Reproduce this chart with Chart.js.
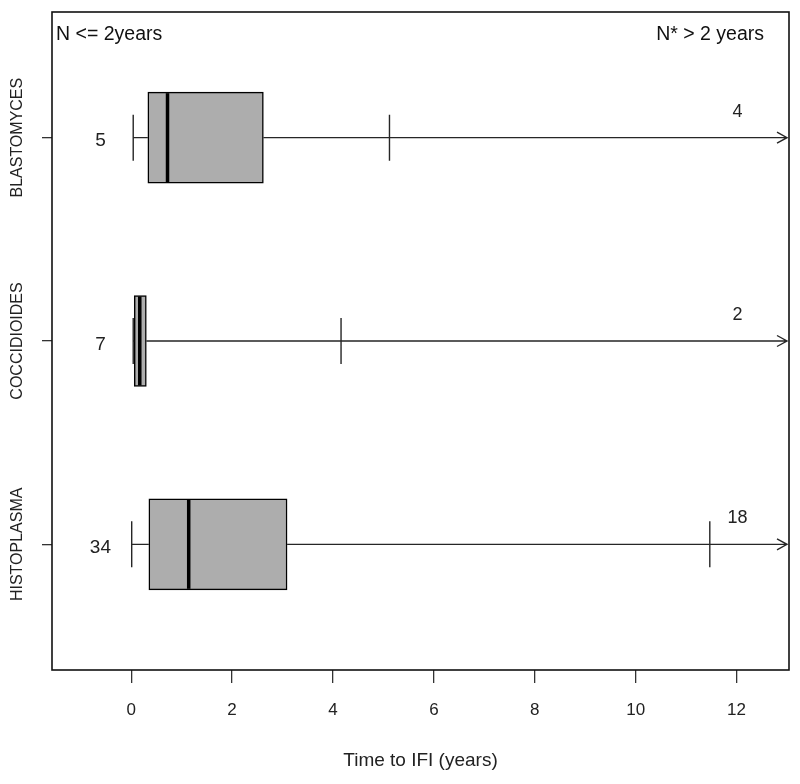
<!DOCTYPE html>
<html><head><meta charset="utf-8">
<script src="https://cdn.jsdelivr.net/npm/chart.js@4"></script>
<style>html,body{margin:0;padding:0;background:#fff}#wrap{width:800px;height:784px;position:relative}</style>
</head><body><div id="wrap"><canvas id="c"></canvas></div>
<script>
const categories = ['BLASTOMYCES', 'COCCIDIOIDES', 'HISTOPLASMA'];
const positions = [3, 2, 1];
const whiskerLow = [0.04, 0.04, 0.01];
const q1 = [0.33, 0.06, 0.35];
const median = [0.72, 0.17, 1.14];
const q3 = [2.62, 0.30, 3.09];
const upperMark = [5.12, 4.16, 11.47];
const countLow = ['5', '7', '34'];
const countHigh = ['4', '2', '18'];
const xTickValues = [0, 2, 4, 6, 8, 10, 12];
const xRange = [-1.57, 13.04];
const yRange = [0.382, 3.618];
const cornerLabels = ['N <= 2years', 'N* > 2 years'];
const xTitle = 'Time to IFI (years)';
const countLowX = -0.61;
const countHighX = 12.02;
const capHalf = 0.113;

const FONT = "'Liberation Sans', Arial, Helvetica, sans-serif";

const boxData = positions.map((p, i) => ({ x: [q1[i], q3[i]], y: p }));

const boxPlugin = {
  id: 'boxExtras',
  afterDatasetsDraw(chart) {
    const ctx = chart.ctx, xs = chart.scales.x, ys = chart.scales.y, area = chart.chartArea;
    ctx.save();
    ctx.lineCap = 'butt';
    positions.forEach((p, i) => {
      const cy = ys.getPixelForValue(p);
      const capTop = ys.getPixelForValue(p + capHalf), capBot = ys.getPixelForValue(p - capHalf);
      const boxTop = cy - 45.5, boxBot = cy + 45.5;
      ctx.strokeStyle = '#262626';
      ctx.lineWidth = 1.4;
      // lower whisker
      const xl = xs.getPixelForValue(whiskerLow[i]);
      ctx.beginPath();
      ctx.moveTo(xl, cy); ctx.lineTo(xs.getPixelForValue(q1[i]), cy);
      ctx.moveTo(xl, capTop); ctx.lineTo(xl, capBot);
      ctx.stroke();
      // upper whisker with arrow to the right edge
      const xr = area.right - 2;
      ctx.beginPath();
      ctx.moveTo(xs.getPixelForValue(q3[i]), cy); ctx.lineTo(xr, cy);
      const xm = xs.getPixelForValue(upperMark[i]);
      ctx.moveTo(xm, capTop); ctx.lineTo(xm, capBot);
      ctx.moveTo(xr - 10, cy - 5.5); ctx.lineTo(xr, cy); ctx.lineTo(xr - 10, cy + 5.5);
      ctx.stroke();
      // median
      ctx.strokeStyle = '#000';
      ctx.lineWidth = 3.5;
      const xmed = xs.getPixelForValue(median[i]);
      ctx.beginPath();
      ctx.moveTo(xmed, boxTop + 1); ctx.lineTo(xmed, boxBot - 1);
      ctx.stroke();
      // counts
      ctx.fillStyle = '#222';
      ctx.font = '19px ' + FONT;
      ctx.textAlign = 'center';
      ctx.textBaseline = 'alphabetic';
      ctx.fillText(countLow[i], xs.getPixelForValue(countLowX), cy + 8.5);
      ctx.font = '18px ' + FONT;
      ctx.fillText(countHigh[i], xs.getPixelForValue(countHighX), cy - 21);
      // category label (rotated)
      ctx.save();
      ctx.translate(18, cy);
      ctx.rotate(-Math.PI / 2);
      ctx.font = '16px ' + FONT;
      ctx.textAlign = 'center';
      ctx.textBaseline = 'middle';
      ctx.fillText(categories[i], 0, 0);
      ctx.restore();
    });
    // corner texts
    ctx.fillStyle = '#111';
    ctx.font = '19.5px ' + FONT;
    ctx.textBaseline = 'alphabetic';
    ctx.textAlign = 'left';
    ctx.fillText(cornerLabels[0], area.left + 4, 40);
    ctx.textAlign = 'right';
    ctx.fillText(cornerLabels[1], area.right - 25, 40);
    // frame
    ctx.strokeStyle = '#111';
    ctx.lineWidth = 1.6;
    ctx.strokeRect(area.left, area.top, area.right - area.left, area.bottom - area.top);
    ctx.restore();
  }
};

new Chart(document.getElementById('c'), {
  type: 'bar',
  data: {
    datasets: [{
      data: boxData,
      backgroundColor: '#adadad',
      borderColor: '#000',
      borderWidth: 1.5,
      borderSkipped: false,
      barThickness: 91
    }]
  },
  options: {
    indexAxis: 'y',
    responsive: true,
    maintainAspectRatio: false,
    animation: false,
    layout: { padding: { top: 12, right: 11, left: 0, bottom: 0 } },
    plugins: { legend: { display: false }, tooltip: { enabled: false } },
    scales: {
      x: {
        type: 'linear',
        min: xRange[0], max: xRange[1],
        offset: false,
        afterBuildTicks: s => { s.ticks = xTickValues.map(v => ({ value: v })); },
        afterFit: s => { s.height = 114; },
        border: { display: false },
        grid: { offset: false, drawOnChartArea: false, drawTicks: true, tickLength: 13, color: '#333', lineWidth: 1.3 },
        ticks: { color: '#222', font: { family: FONT, size: 17 }, padding: 17, maxRotation: 0, autoSkip: false },
        title: { display: true, text: xTitle, color: '#222', font: { family: FONT, size: 19 }, padding: { top: 0, bottom: 12 } }
      },
      y: {
        type: 'linear',
        min: yRange[0], max: yRange[1],
        offset: false,
        afterBuildTicks: s => { s.ticks = positions.map(v => ({ value: v })); },
        afterFit: s => { s.width = 52; },
        border: { display: false },
        grid: { offset: false, drawOnChartArea: false, drawTicks: true, tickLength: 10, color: '#333', lineWidth: 1.3 },
        ticks: { callback: () => '', padding: 0 }
      }
    }
  },
  plugins: [boxPlugin]
});
</script>
</body></html>
